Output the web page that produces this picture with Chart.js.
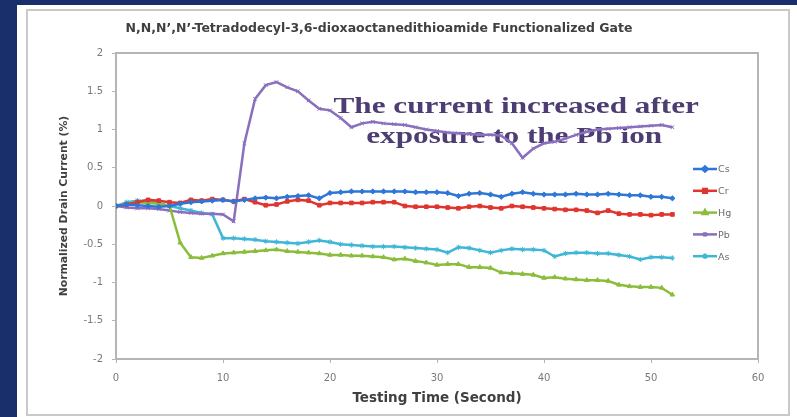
<!DOCTYPE html>
<html><head><meta charset="utf-8">
<script src="https://cdn.jsdelivr.net/npm/chart.js@4.4.1/dist/chart.umd.min.js"></script>
<style>html,body{margin:0;padding:0;background:#182f6c;overflow:hidden}canvas{display:block}</style>
</head><body>
<canvas id="c" width="797" height="417"></canvas>
<script>
const chartTitle = "N,N,N\u2019,N\u2019-Tetradodecyl-3,6-dioxaoctanedithioamide Functionalized Gate";
const xTitle = "Testing Time (Second)";
const yTitle = "Normalized Drain Current (%)";
const annotationLines = ["The current increased after", "exposure to the Pb ion"];
const seriesNames = ["Cs", "Cr", "Hg", "Pb", "As"];

const xTickValues = [0, 10, 20, 30, 40, 50, 60];
const xTickLabels = ["0", "10", "20", "30", "40", "50", "60"];
const yTickValues = [-2, -1.5, -1, -0.5, 0, 0.5, 1, 1.5, 2];
const yTickLabels = ["-2", "-1.5", "-1", "-0.5", "0", "0.5", "1", "1.5", "2"];

const times = [0,1,2,3,4,5,6,7,8,9,10,11,12,13,14,15,16,17,18,19,20,21,22,23,24,25,26,27,28,29,30,31,32,33,34,35,36,37,38,39,40,41,42,43,44,45,46,47,48,49,50,51,52];

const cs = [0,0.02,0.01,0,-0.01,0,0.03,0.05,0.06,0.07,0.08,0.06,0.08,0.1,0.11,0.1,0.12,0.13,0.14,0.1,0.17,0.18,0.19,0.19,0.19,0.19,0.19,0.19,0.18,0.18,0.18,0.17,0.13,0.16,0.17,0.15,0.12,0.16,0.18,0.16,0.15,0.15,0.15,0.16,0.15,0.15,0.16,0.15,0.14,0.14,0.12,0.12,0.1];
const cr = [0,0.02,0.05,0.08,0.07,0.05,0.04,0.08,0.07,0.09,0.08,0.06,0.09,0.05,0.01,0.02,0.06,0.08,0.07,0.01,0.04,0.04,0.04,0.04,0.05,0.05,0.05,0,-0.01,-0.01,-0.01,-0.02,-0.03,-0.01,0,-0.02,-0.03,0,-0.01,-0.02,-0.03,-0.04,-0.05,-0.05,-0.06,-0.09,-0.06,-0.1,-0.11,-0.11,-0.12,-0.11,-0.11];
const hg = [0,0.03,0.05,0.04,0.03,0.0,-0.48,-0.67,-0.68,-0.65,-0.62,-0.61,-0.6,-0.59,-0.58,-0.57,-0.59,-0.6,-0.61,-0.62,-0.64,-0.64,-0.65,-0.65,-0.66,-0.67,-0.7,-0.69,-0.72,-0.74,-0.77,-0.76,-0.76,-0.8,-0.8,-0.81,-0.87,-0.88,-0.89,-0.9,-0.94,-0.93,-0.95,-0.96,-0.97,-0.97,-0.98,-1.03,-1.05,-1.06,-1.06,-1.07,-1.16];
const pb = [0,-0.02,-0.03,-0.03,-0.04,-0.06,-0.08,-0.09,-0.1,-0.1,-0.11,-0.2,0.82,1.4,1.58,1.62,1.55,1.5,1.38,1.27,1.25,1.15,1.03,1.08,1.1,1.08,1.07,1.06,1.03,1.0,0.98,0.96,0.95,0.94,0.93,0.93,0.92,0.82,0.63,0.75,0.82,0.84,0.88,0.93,0.97,1.0,1.01,1.02,1.03,1.04,1.05,1.06,1.03];
const as = [0,0.05,0.07,0.07,0.04,0,-0.03,-0.06,-0.09,-0.11,-0.42,-0.42,-0.43,-0.44,-0.46,-0.47,-0.48,-0.49,-0.47,-0.45,-0.47,-0.5,-0.51,-0.52,-0.53,-0.53,-0.53,-0.54,-0.55,-0.56,-0.57,-0.61,-0.54,-0.55,-0.58,-0.61,-0.58,-0.56,-0.57,-0.57,-0.58,-0.66,-0.62,-0.61,-0.61,-0.62,-0.62,-0.64,-0.66,-0.7,-0.67,-0.67,-0.68];

const seriesValues = [cs, cr, hg, pb, as];
const colors = ["#2f77d6", "#e0352f", "#8cbd3a", "#8a6fbf", "#3fb6d6"];
const markers = ["rectRot", "rect", "triangle", "crossRot", "star"];

const toPoints = vals => vals.map((v, i) => ({x: times[i], y: v}));

const datasets = seriesNames.map((name, k) => ({
  label: name,
  data: toPoints(seriesValues[k]),
  borderColor: colors[k],
  backgroundColor: colors[k],
  borderWidth: 2.5,
  pointStyle: markers[k],
  pointRadius: 2.6,
  pointBorderWidth: 1,
  pointBorderColor: colors[k],
  pointBackgroundColor: colors[k],
  showLine: true,
  tension: 0
}));

const FONT = "'DejaVu Sans', sans-serif";

const frame = {
  id: 'frame',
  beforeDraw(chart) {
    const c = chart.ctx;
    c.save();
    c.fillStyle = '#182f6c';
    c.fillRect(0, 0, chart.width, chart.height);
    c.fillStyle = '#ffffff';
    c.fillRect(17, 5, chart.width - 17, chart.height - 5);
    c.strokeStyle = '#c9c9c9';
    c.lineWidth = 2;
    c.strokeRect(27, 10, 762, 405);
    c.restore();
  },
  beforeDatasetsDraw(chart) {
    const a = chart.chartArea, c = chart.ctx;
    c.save();
    c.strokeStyle = '#b5b5b5';
    c.lineWidth = 2;
    c.strokeRect(a.left, a.top, a.right - a.left, a.bottom - a.top);
    const xs = chart.scales.x, ys = chart.scales.y;
    c.font = "bold 24px 'Liberation Serif', 'DejaVu Serif', serif";
    c.fillStyle = '#4d3d73';
    c.textAlign = 'center';
    c.textBaseline = 'alphabetic';
    const ax = xs.getPixelForValue(37.4);
    const lineY = [1.22, 0.83];
    annotationLines.forEach((t, i) => {
      c.save();
      c.translate(ax - i * 2, ys.getPixelForValue(lineY[i]));
      c.scale(1.3, 1);
      c.fillText(t, 0, 0);
      c.restore();
    });
    c.restore();
  },
  afterDraw(chart) {
    const a = chart.chartArea, c = chart.ctx;
    c.save();
    const x0 = a.right - 65, y0 = a.top + 116, dy = 21.8;
    chart.data.datasets.forEach((ds, k) => {
      const y = y0 + k * dy;
      c.strokeStyle = ds.borderColor;
      c.lineWidth = 2.5;
      c.beginPath(); c.moveTo(x0, y); c.lineTo(x0 + 24, y); c.stroke();
      c.fillStyle = ds.borderColor;
      if (Chart.helpers && Chart.helpers.drawPoint) {
        Chart.helpers.drawPoint(c, {pointStyle: ds.pointStyle, radius: 2.6, borderWidth: 1, rotation: 0}, x0 + 12, y);
      }
      c.fillStyle = '#6b6b6b';
      c.font = "9.5px " + FONT;
      c.textAlign = 'left';
      c.textBaseline = 'middle';
      c.fillText(ds.label, x0 + 25, y + 1);
    });
    c.restore();
  }
};

new Chart(document.getElementById('c'), {
  type: 'scatter',
  data: {datasets},
  plugins: [frame],
  options: {
    responsive: false,
    animation: false,
    devicePixelRatio: 1,
    layout: {padding: {left: 0, right: 39, top: 0, bottom: 0}},
    plugins: {
      legend: {display: false},
      tooltip: {enabled: false},
      title: {
        display: true,
        text: chartTitle,
        color: '#404040',
        font: {family: FONT, size: 12.5, weight: 'bold'},
        padding: {top: 21, bottom: 17}
      }
    },
    scales: {
      x: {
        type: 'linear', min: 0, max: 60,
        ticks: {stepSize: 10, color: '#7a7a7a', font: {family: FONT, size: 10}, padding: 9,
          callback: v => xTickLabels[xTickValues.indexOf(v)]},
        grid: {drawOnChartArea: false, tickLength: 4, color: '#b5b5b5'},
        border: {color: '#b5b5b5', width: 2},
        title: {display: true, text: xTitle, color: '#404040', font: {family: FONT, size: 13.5, weight: 'bold'}, padding: {top: 0, bottom: 10}},
        afterFit(s) { s.height = 58; }
      },
      y: {
        min: -2, max: 2,
        ticks: {stepSize: 0.5, color: '#7a7a7a', font: {family: FONT, size: 10}, padding: 9,
          callback: v => yTickLabels[yTickValues.indexOf(v)]},
        grid: {drawOnChartArea: false, tickLength: 4, color: '#b5b5b5'},
        border: {color: '#b5b5b5', width: 2},
        title: {display: true, text: yTitle, color: '#404040', font: {family: FONT, size: 10.8, weight: 'bold'}, padding: {top: 58, bottom: 0}},
        afterFit(s) { s.width = 116; }
      }
    }
  }
});
</script>
</body></html>
